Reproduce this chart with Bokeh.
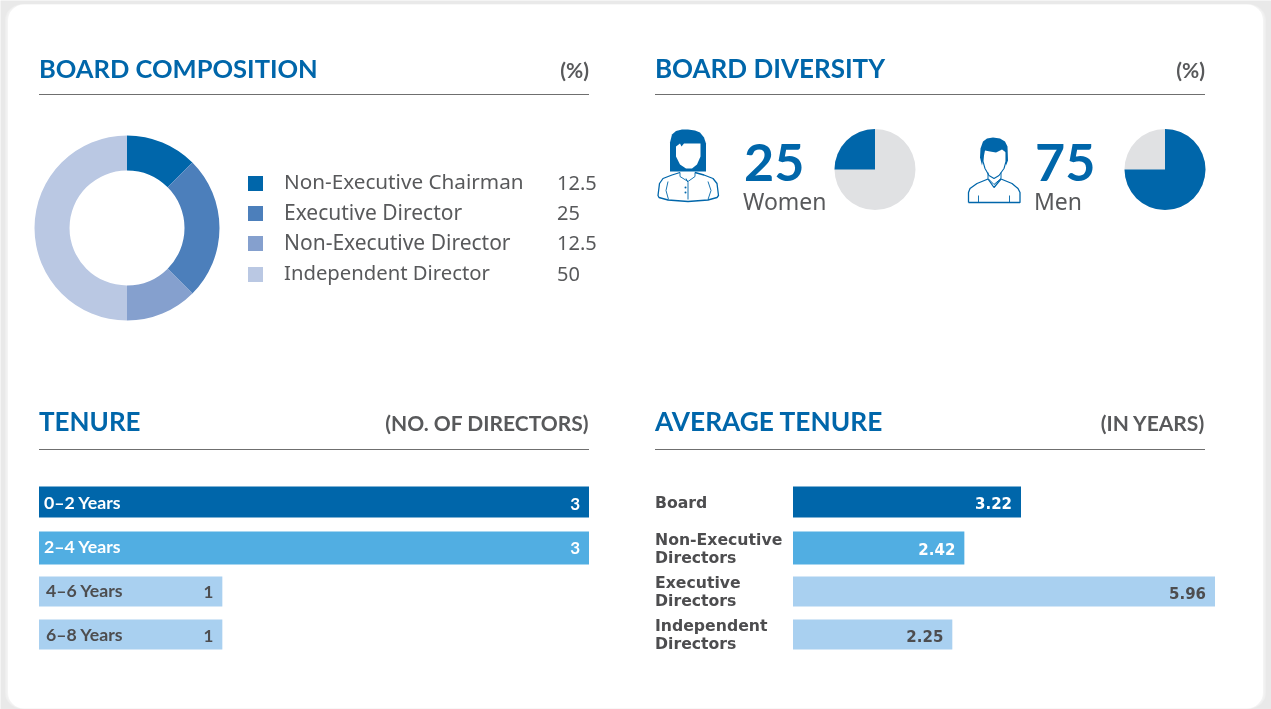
from math import pi
from bokeh.plotting import figure
from bokeh.models import Range1d
from bokeh.core.properties import value
from bokeh.embed import file_html
from bokeh.resources import INLINE

# ---- data
comp_labels = ["Non-Executive Chairman", "Executive Director", "Non-Executive Director", "Independent Director"]
comp_values = [12.5, 25, 12.5, 50]
comp_texts = ["12.5", "25", "12.5", "50"]
div_labels = ["Women", "Men"]
div_values = [25, 75]
ten_labels = ["0–2 Years", "2–4 Years", "4–6 Years", "6–8 Years"]
ten_values = [3, 3, 1, 1]
avg_labels = [["Board"], ["Non-Executive", "Directors"], ["Executive", "Directors"], ["Independent", "Directors"]]
avg_values = [3.22, 2.42, 5.96, 2.25]

# ---- style
BLUE = "#0066aa"
GREY_TXT = "#58595b"
DARK_TXT = "#4d4d4f"
comp_colors = ["#0066aa", "#4c7fbb", "#85a0ce", "#bac8e3"]
bar_colors = ["#0066aa", "#51aee2", "#a9d0f0", "#a9d0f0"]
HEAD = "Lato"
BODY = "Noto Sans"
LABEL = "DejaVu Sans"
W, H = 1271, 709
DX = 0.5
BASE = 0.42  # distance between the requested and drawn alphabetic baseline, per font px

p = figure(width=W, height=H, x_range=Range1d(DX, W + DX), y_range=Range1d(H, 0),
           output_backend="svg", toolbar_location=None, min_border=0,
           outline_line_color=None, background_fill_color="#e9e9e9", border_fill_color="#e9e9e9")
p.axis.visible = False
p.grid.visible = False
p.styles = {"position": "fixed", "left": "0", "top": "0"}

# card with soft shadow
for i, c in enumerate(["#eeeeee", "#f1f1f1", "#f4f4f4"]):
    d = 3 - i
    p.quad(left=8 - d, right=1263 + d, top=4, bottom=708, fill_color=c, line_color=None, border_radius=16)
p.quad(left=8, right=1263, top=4, bottom=708, fill_color="white", line_color=None, border_radius=16)


def txt(x, y, s, size, color=GREY_TXT, font=BODY, style="normal", align="left"):
    p.text(x=[x], y=[y - BASE * size], text=[s], text_font=value(font), text_font_size=f"{size}px", text_color=color,
           text_font_style=style, text_align=align, text_baseline="alphabetic")


# section heads
heads = [(39, 589, 78, 78, 94, "BOARD COMPOSITION", "(%)", 25.5), (655, 1205, 78.8, 78, 94, "BOARD DIVERSITY", "(%)", 26),
         (39, 589, 431, 431, 449, "TENURE", "(NO. OF DIRECTORS)", 26), (655, 1205, 431.8, 431, 449, "AVERAGE TENURE", "(IN YEARS)", 26.3)]
for x0, x1, by, cy, ly, a, b, sz in heads:
    txt(x0, by, a, sz, BLUE, HEAD, "bold")
    txt(x1, cy, b, 21, GREY_TXT, HEAD, "bold", "right")
    p.segment(x0=[x0], y0=[ly], x1=[x1], y1=[ly], line_color="#6f6f6f", line_width=1)

# donut
total = sum(comp_values)
start = pi / 2
for v, c in zip(comp_values, comp_colors):
    end = start - 2 * pi * v / total
    p.annular_wedge(x=[127], y=[227.5], inner_radius=57.5, outer_radius=92.5, start_angle=[end], end_angle=[start],
                    fill_color=c, line_color=None, inner_radius_units="screen", outer_radius_units="screen")
    start = end

# legend
leg_y = [183, 213, 243, 274]
leg_sz = [20.7, 21, 21, 20.3]
leg_base = [189.5, 220.7, 250.7, 280.5]
for y, lab, t, c, sz, b in zip(leg_y, comp_labels, comp_texts, comp_colors, leg_sz, leg_base):
    p.quad(left=248, right=263, top=y - 7.5, bottom=y + 7.5, fill_color=c, line_color=None)
    txt(284, b, lab, sz)
    txt(557, y + 8, t, 20)

# diversity pies
num_x = [744, 1035]
lab_x = [743, 1034]
pie_x = [875, 1165]
for v, lab, nx, lx, px in zip(div_values, div_labels, num_x, lab_x, pie_x):
    txt(nx, 184, str(v), 52, BLUE, HEAD, "bold")
    txt(lx, 210, lab, 23)
    frac = 2 * pi * v / 100
    if lab == "Women":
        s_blue, e_blue = pi / 2, pi / 2 + frac
    else:
        s_blue, e_blue = pi / 2 - frac, pi / 2
    p.wedge(x=[px], y=[169], radius=40.5, radius_units="screen", start_angle=[0], end_angle=[2 * pi],
            fill_color="#e0e1e3", line_color=None)
    p.wedge(x=[px], y=[169], radius=40.5, radius_units="screen", start_angle=[s_blue], end_angle=[e_blue],
            fill_color=BLUE, line_color=None)


# people icons (decoration)
def line(xs, ys, w=1.3, color=BLUE):
    p.line(xs, ys, line_color=color, line_width=w)


# woman
p.patch([670, 670, 672, 676, 682, 688, 695, 700, 704, 706, 706, 670],
        [171, 142, 134, 130.5, 129, 129, 130, 132, 137, 143, 171, 171], fill_color=BLUE, line_color=None)
p.patch([676, 680, 681.5, 684, 700.5, 700.5, 697, 692, 686, 680, 676],
        [146, 143, 146, 143, 143, 156, 164, 168, 168, 164, 156], fill_color="white", line_color=None)
line([680, 672, 663, 659.5, 658, 659, 668, 688, 708, 717, 718.5, 717, 713, 704, 695],
     [172, 174.5, 178, 183, 195, 197, 199.5, 201, 199.5, 197, 195, 183, 178, 174.5, 172])
line([668, 666, 668.5], [181, 190, 199], 0.9)
line([708, 711, 708], [181, 190, 199], 0.9)
line([680, 680, 688, 695, 695], [172, 176, 181, 176, 172], 0.9)
line([686, 688, 688], [178, 182, 199], 0.9)
p.scatter([685.5, 685.5], [187, 192], size=2, fill_color=BLUE, line_color=None)

# man
p.patch([982, 980, 980.5, 983, 987, 993, 1000, 1005, 1007.5, 1008, 1006, 1006, 1002, 996, 990, 985, 982],
        [165, 157, 148, 141, 138, 137, 138, 141, 146, 160, 165, 152, 149, 152, 151, 150, 165],
        fill_color=BLUE, line_color=None)
line([983, 983, 985, 989, 994, 999, 1004, 1006, 1006], [150, 161, 168, 175, 178, 175, 168, 161, 150], 1.1)
line([968.5, 968.5, 970, 977, 988, 994, 1001, 1012, 1018, 1020, 1020, 968.5],
     [202, 192, 188, 183, 178.5, 187, 178.5, 183, 188, 192, 202, 202])
line([988, 988, 994, 1001, 1001], [172, 178, 184, 178, 172], 1.0)
line([978.5, 978.5], [195, 202], 0.9)
line([1009.5, 1009.5], [195, 202], 0.9)

# tenure bars
ten_x0, ten_px = 39, 550 / 3
ten_k = 1 / ten_px
p.extra_x_ranges["tenure"] = Range1d((DX - ten_x0) * ten_k, (W + DX - ten_x0) * ten_k)
ten_top = [486, 531, 576, 619]
ten_bot = [517, 564, 606, 649]
ten_colors = ["white", "white", DARK_TXT, DARK_TXT]
ten_lx = [44, 44, 46, 46]
ten_lab_base = [509, 553, 597, 641]
ten_val_base = [509, 553, 597, 641]
for lab, v, t, b, bc, tc, lx, lb, vb in zip(ten_labels, ten_values, ten_top, ten_bot, bar_colors, ten_colors, ten_lx,
                                            ten_lab_base, ten_val_base):
    p.hbar(y=[(t + b) / 2], height=b - t, left=[0], right=[v], fill_color=bc, line_color=None, x_range_name="tenure")
    txt(lx, lb, lab, 17.7, tc, HEAD, "bold")
    p.text(x=[v], y=[vb], text=[str(v)], x_offset=-9, text_align="right", text_font=value(HEAD), text_font_size="17px",
           text_font_style="bold", text_color=tc, x_range_name="tenure")

# average tenure bars
avg_x0, avg_px = 793, 228 / 3.22
avg_k = 1 / avg_px
p.extra_x_ranges["avg"] = Range1d((DX - avg_x0) * avg_k, (W + DX - avg_x0) * avg_k)
avg_colors = ["white", "white", DARK_TXT, DARK_TXT]
lab_base = [[509], [546, 564], [589, 607], [632, 650]]
for labs, v, t, b, bc, tc, bases in zip(avg_labels, avg_values, ten_top, ten_bot, bar_colors, avg_colors, lab_base):
    p.hbar(y=[(t + b) / 2], height=b - t, left=[0], right=[v], fill_color=bc, line_color=None, x_range_name="avg")
    p.text(x=[v], y=[(t + b) / 2 + 7], text=[f"{v:.2f}"], x_offset=-9, text_align="right", text_font=value(LABEL),
           text_font_size="15px", text_font_style="bold", text_color=tc, x_range_name="avg")
    for s, y in zip(labs, bases):
        txt(655, y, s, 15.7, DARK_TXT, LABEL, "bold")

open("out.html", "w").write(file_html(p, INLINE))
